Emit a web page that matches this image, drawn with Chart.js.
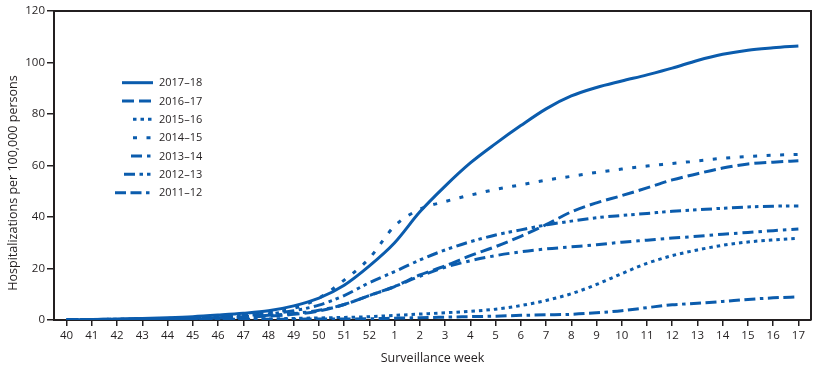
<!DOCTYPE html>
<html><head><meta charset="utf-8">
<script src="https://cdn.jsdelivr.net/npm/chart.js@4.4.1/dist/chart.umd.min.js"></script>
<style>html,body{margin:0;padding:0;background:#fff}#wrap{width:820px;height:372px;position:relative}</style>
</head><body><div id="wrap"><canvas id="c"></canvas></div>
<script>
const weeks = ['40','41','42','43','44','45','46','47','48','49','50','51','52','1','2','3','4','5','6','7','8','9','10','11','12','13','14','15','16','17'];
const seasons = ['2017–18','2016–17','2015–16','2014–15','2013–14','2012–13','2011–12'];
const s2017_18 = [0.1,0.2,0.4,0.6,0.9,1.3,1.9,2.6,3.6,5.5,8.5,13.5,21, 30,42,52,61,68.5,75.5,82,87,90.3,92.8,95.2,97.8,100.8,103.2,104.8,105.7,106.4];
const s2016_17 = [0.1,0.1,0.2,0.3,0.4,0.6,0.8,1.1,1.5,2.2,3.5,6,9.5, 13,17.5,21,25,28.5,32.5,37,42,45.5,48.3,51.3,54.4,56.8,59,60.6,61.3,61.8];
const s2015_16 = [0,0.1,0.1,0.1,0.2,0.2,0.3,0.3,0.4,0.6,0.8,1.0,1.3, 1.8,2.3,2.8,3.4,4.2,5.6,7.6,10.2,13.8,18,22,25,27.2,29,30.3,31.1,31.7];
const s2014_15 = [0.1,0.2,0.3,0.4,0.6,0.9,1.3,1.9,2.8,4.5,8.5,15.5,24, 36.5,43,46,48.5,50.7,52.5,54.3,55.8,57.3,58.6,59.8,60.8,61.8,62.8,63.5,64,64.3];
const s2013_14 = [0.1,0.1,0.2,0.3,0.4,0.6,0.9,1.3,1.8,2.5,3.8,6,9.5, 13,17,20.5,23,25,26.5,27.6,28.4,29.2,30.2,31,31.8,32.5,33.3,34,34.7,35.3];
const s2012_13 = [0.1,0.2,0.3,0.4,0.6,0.9,1.2,1.7,2.4,3.6,5.8,9.5,14.5, 18.8,23.3,27.2,30.4,33,35,36.9,38.4,39.7,40.6,41.4,42.2,42.8,43.4,43.9,44.2,44.3];
const s2011_12 = [0,0,0.1,0.1,0.1,0.2,0.2,0.2,0.3,0.3,0.4,0.4,0.5, 0.7,0.9,1.1,1.3,1.5,1.8,2.0,2.2,2.8,3.6,4.8,5.9,6.5,7.2,8,8.6,9];
const yTicks = [0,20,40,60,80,100,120];
const xTitle = 'Surveillance week';
const yTitle = 'Hospitalizations per 100,000 persons';

const seriesValues = [s2017_18,s2016_17,s2015_16,s2014_15,s2013_14,s2012_13,s2011_12];
const dashes = [[],[12,5],[3.5,4],[4,9.5],[11,5,3.5,5],[11,4.5,3.5,4,3.5,4.5],[11,4.5,11,4.5,3.5,4.5]];
const legendStart = [122,122,133,133,131,124,115];
const COLOR = '#0b5cad';
const INK = '#231f20';
const FONT = '"Open Sans", sans-serif';

const datasets = seasons.map((s,i)=>({
  label: s, data: seriesValues[i], borderColor: COLOR, backgroundColor: COLOR,
  borderWidth: 3, borderDash: dashes[i], borderCapStyle: 'butt', pointRadius: 0,
  cubicInterpolationMode: 'monotone', fill: false
}));

const extras = {
  id: 'extras',
  afterDatasetsDraw(chart){
    const {ctx, chartArea:a} = chart;
    ctx.save();
    ctx.strokeStyle = INK; ctx.lineWidth = 2; ctx.setLineDash([]);
    ctx.beginPath();
    ctx.moveTo(a.left, a.top); ctx.lineTo(a.right, a.top); ctx.lineTo(a.right, a.bottom);
    ctx.stroke();
    // legend
    chart.data.datasets.forEach((ds,i)=>{
      const y = 82.7 + i*18.33;
      ctx.strokeStyle = ds.borderColor; ctx.lineWidth = 3; ctx.lineCap='butt';
      ctx.setLineDash(ds.borderDash);
      ctx.beginPath(); ctx.moveTo(legendStart[i], y); ctx.lineTo(153, y); ctx.stroke();
      ctx.setLineDash([]);
      ctx.fillStyle = INK; ctx.font = '11px ' + FONT; ctx.textAlign='left'; ctx.textBaseline='middle';
      ctx.fillText(ds.label, 159, y+0.5);
    });
    // y title
    ctx.translate(13, 183); ctx.rotate(-Math.PI/2);
    ctx.font = '12.5px ' + FONT; ctx.fillStyle = INK; ctx.textAlign='center'; ctx.textBaseline='middle';
    ctx.fillText(yTitle, 0, 0);
    ctx.restore();
  }
};

new Chart(document.getElementById('c'), {
  type: 'line',
  data: { labels: weeks, datasets },
  plugins: [extras],
  options: {
    responsive: true, maintainAspectRatio: false, animation: false,
    layout: { padding: { top: 11, right: 9, left: 0, bottom: 0 } },
    plugins: { legend: { display: false }, tooltip: { enabled: false } },
    scales: {
      x: {
        type: 'category', offset: true,
        afterFit(scale){ scale.height = 52; },
        grid: { display: true, drawOnChartArea: false, drawTicks: true, tickLength: 6, color: INK, lineWidth: 1.5 },
        border: { display: true, color: INK, width: 2 },
        ticks: { color: INK, font: { family: FONT, size: 11.5 }, padding: 3, autoSkip: false, maxRotation: 0 },
        title: { display: true, text: xTitle, color: INK, font: { family: FONT, size: 12.5 }, padding: { top: 4, bottom: 6 } }
      },
      y: {
        min: 0, max: 120,
        afterFit(scale){ scale.width = 54; },
        afterBuildTicks(scale){ scale.ticks = yTicks.map(v=>({value:v})); },
        grid: { display: true, drawOnChartArea: false, drawTicks: true, tickLength: 7, color: INK, lineWidth: 1.5 },
        border: { display: true, color: INK, width: 2 },
        ticks: { color: INK, font: { family: FONT, size: 11.5 }, padding: 2 }
      }
    }
  }
});
</script></body></html>
